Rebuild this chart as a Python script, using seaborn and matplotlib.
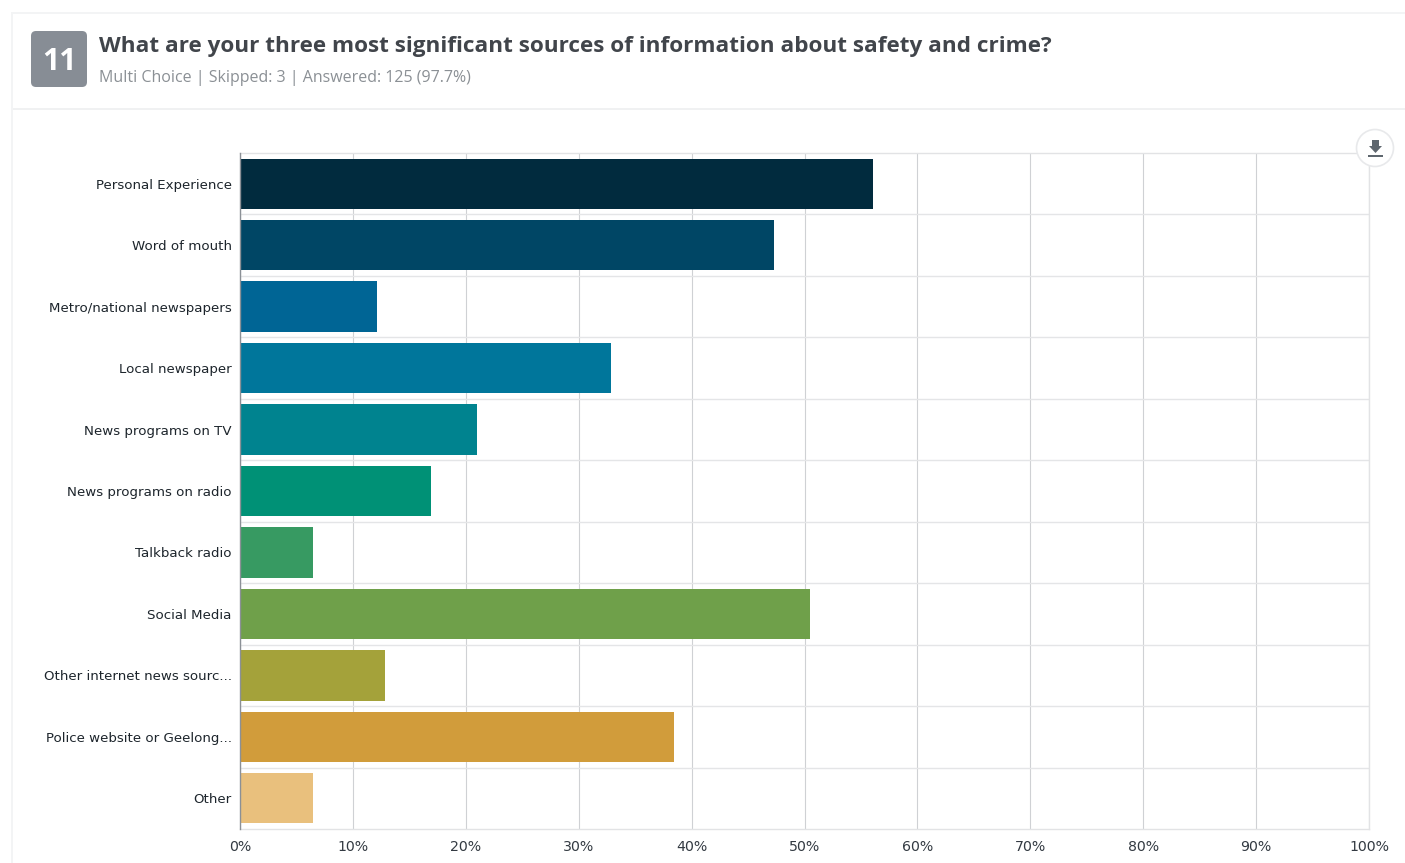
import matplotlib
matplotlib.use("Agg")
import matplotlib.pyplot as plt
from matplotlib.patches import Circle, FancyBboxPatch, Polygon, Rectangle
from matplotlib.transforms import Affine2D
import pandas as pd
import seaborn as sns

labels = [
    "Personal Experience",
    "Word of mouth",
    "Metro/national newspapers",
    "Local newspaper",
    "News programs on TV",
    "News programs on radio",
    "Talkback radio",
    "Social Media",
    "Other internet news sourc...",
    "Police website or Geelong...",
    "Other",
]
percent = [56.1, 47.3, 12.1, 32.9, 21.0, 16.9, 6.5, 50.5, 12.8, 38.4, 6.5]
colors = [
    "#012b3e", "#004665", "#006595", "#00769b", "#00838f", "#009176",
    "#379a62", "#6fa04a", "#a4a23a", "#d19c3b", "#e9c07d",
]
ticks = list(range(0, 101, 10))
tick_labels = [f"{t}%" for t in ticks]

W, H = 1405, 863
sns.set_theme(style="white")
plt.rcParams["font.family"] = ["DejaVu Sans"]

df = pd.DataFrame({"source": labels, "percent": percent})

fig = plt.figure(figsize=(W / 100, H / 100), dpi=100)
ax = fig.add_axes([240 / W, 1 - 829 / H, (1369 - 240) / W, (829 - 153) / H])
sns.barplot(data=df, y="source", x="percent", hue="source", palette=colors,
            legend=False, width=0.82, saturation=1, linewidth=0, ax=ax, zorder=3)
ax.set_xlim(0, 100)
ax.set_ylim(10.5, -0.5)
ax.set_xlabel("")
ax.set_ylabel("")
ax.set_xticks(ticks, tick_labels)
ax.set_yticks([i - 0.5 for i in range(1, 11)], minor=True)
ax.grid(True, axis="x", color="#cfd1d4", lw=0.8)
ax.grid(True, axis="y", which="minor", color="#e4e5e7", lw=1)
ax.set_axisbelow(True)
ax.tick_params(axis="both", which="both", length=0)
ax.tick_params(axis="x", labelsize=10.2, pad=8, labelcolor="#333a42")
ax.tick_params(axis="y", labelsize=9.6, pad=6, labelcolor="#1d252c")
for side, spine in ax.spines.items():
    spine.set_visible(True)
    spine.set_color("#e2e3e5")
    spine.set_linewidth(1)
ax.spines["left"].set_color("#8b9096")
ax.spines["left"].set_zorder(4)

# page furniture, drawn in pixel coordinates
px = Affine2D().scale(1 / W, -1 / H).translate(0, 1) + fig.transFigure
fig.add_artist(Rectangle((11, 12), W, 2, color="#f3f4f5", transform=px, lw=0))
fig.add_artist(Rectangle((11, 12), 2, H, color="#f3f4f5", transform=px, lw=0))
fig.add_artist(Rectangle((13, 108), W, 2, color="#f0f1f2", transform=px, lw=0))
fig.add_artist(FancyBboxPatch((34, 34), 50, 50, boxstyle="round,pad=3,rounding_size=5",
                              fc="#878d95", ec="none", transform=px))
fig.text(59 / W, 1 - 62 / H, "11", color="white", fontsize=22, fontweight="bold",
         family="Open Sans", ha="center", va="center")
fig.text(99 / W, 1 - 46.5 / H,
         "What are your three most significant sources of information about safety and crime?",
         color="#41454b", fontsize=16.2, fontweight="bold", family="Open Sans", va="center")
fig.text(99 / W, 1 - 78.5 / H, "Multi Choice | Skipped: 3 | Answered: 125 (97.7%)",
         color="#8b9095", fontsize=11.55, family="Open Sans", va="center")

# download button
fig.add_artist(Circle((1375, 148), 18.5, fc="white", ec="#e8e9eb", lw=1.2, transform=px, zorder=5))
fig.add_artist(Polygon([(1372, 140), (1379, 140), (1379, 146), (1382, 146), (1375.5, 153), (1369, 146), (1372, 146)],
                       closed=True, fc="#5e666e", ec="none", transform=px, zorder=6))
fig.add_artist(Rectangle((1368, 155), 15, 2.5, fc="#5e666e", ec="none", transform=px, zorder=6))

fig.savefig("out.png", dpi=100)
